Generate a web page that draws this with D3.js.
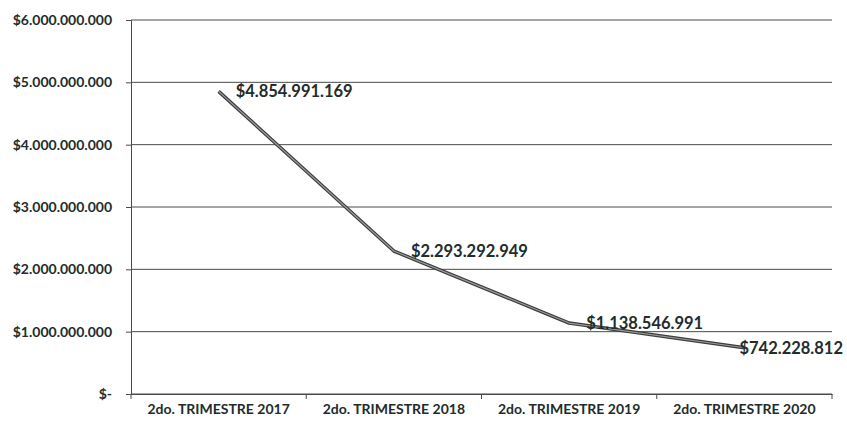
<!DOCTYPE html>
<html>
<head>
<meta charset="utf-8">
<script src="https://cdn.jsdelivr.net/npm/d3@7.9.0/dist/d3.min.js"></script>
<style>
  body { margin: 0; background: #fff; }
  svg text { font-family: Lato, "Open Sans", sans-serif; font-weight: bold; fill: #222c2c; }
</style>
</head>
<body>
<div id="chart"></div>
<script>
// Data
const periods = ['2do. TRIMESTRE 2017', '2do. TRIMESTRE 2018', '2do. TRIMESTRE 2019', '2do. TRIMESTRE 2020'];
const amounts = [4854991169, 2293292949, 1138546991, 742228812];
const yTicks = [0, 1e9, 2e9, 3e9, 4e9, 5e9, 6e9];

const width = 847;
const height = 425;
const margin = { top: 20, right: 15, bottom: 31, left: 131 };

const svg = d3.select('#chart')
  .append('svg')
  .attr('width', width)
  .attr('height', height);

const xScale = d3.scaleBand()
  .domain(periods)
  .range([margin.left, width - margin.right]);

const yScale = d3.scaleLinear()
  .domain([0, 6e9])
  .range([height - margin.bottom, margin.top]);

// Spanish style thousands separator with dots
const fmtMoney = (v) => v === 0 ? '$-' : '$' + d3.format(',')(v).replace(/,/g, '.');

// Gridlines
svg.append('g')
  .selectAll('line')
  .data(yTicks)
  .join('line')
  .attr('x1', margin.left)
  .attr('x2', width - margin.right)
  .attr('y1', (d) => yScale(d))
  .attr('y2', (d) => yScale(d))
  .attr('stroke', '#4a4a4a')
  .attr('stroke-width', 1);

// Y axis
const yAxis = svg.append('g')
  .attr('transform', `translate(${margin.left},0)`)
  .call(d3.axisLeft(yScale).tickValues(yTicks).tickFormat(fmtMoney).tickSize(5).tickPadding(14));
yAxis.select('.domain').attr('stroke', '#4a4a4a');
yAxis.selectAll('.tick line').attr('stroke', '#4a4a4a');
yAxis.selectAll('text').style('font-size', '14px');

// X axis with ticks at band boundaries
const xAxis = svg.append('g')
  .attr('transform', `translate(0,${height - margin.bottom})`)
  .call(d3.axisBottom(xScale).tickSize(0).tickPadding(10));
xAxis.select('.domain').attr('stroke', '#4a4a4a');
xAxis.selectAll('text').style('font-size', '14px');

const bounds = periods.map((p) => xScale(p)).concat([xScale.range()[1]]);
xAxis.selectAll('.bound')
  .data(bounds)
  .join('line')
  .attr('class', 'bound')
  .attr('x1', (d) => d)
  .attr('x2', (d) => d)
  .attr('y1', 0)
  .attr('y2', 5)
  .attr('stroke', '#4a4a4a');

// Line
const pts = periods.map((p, i) => ({ x: xScale(p) + xScale.bandwidth() / 2, y: yScale(amounts[i]), v: amounts[i] }));

const line = d3.line()
  .x((d) => d.x)
  .y((d) => d.y)
  .curve(d3.curveLinear);

svg.append('path')
  .datum(pts)
  .attr('fill', 'none')
  .attr('stroke', '#3c3c3c')
  .attr('stroke-width', 3.5)
  .attr('stroke-linejoin', 'round')
  .attr('d', line);

svg.append('path')
  .datum(pts)
  .attr('fill', 'none')
  .attr('stroke', '#9a9a9a')
  .attr('stroke-width', 1.2)
  .attr('stroke-linejoin', 'round')
  .attr('d', line);

// Data labels, to the right of each point, kept inside the page
const labels = svg.append('g')
  .selectAll('text')
  .data(pts)
  .join('text')
  .attr('y', (d) => d.y)
  .attr('dy', '0.35em')
  .style('font-size', '16.5px')
  .text((d) => fmtMoney(d.v));

labels.attr('x', function (d) {
  const w = this.getComputedTextLength();
  return Math.min(d.x + 17, width - w - 4);
});
</script>
</body>
</html>
